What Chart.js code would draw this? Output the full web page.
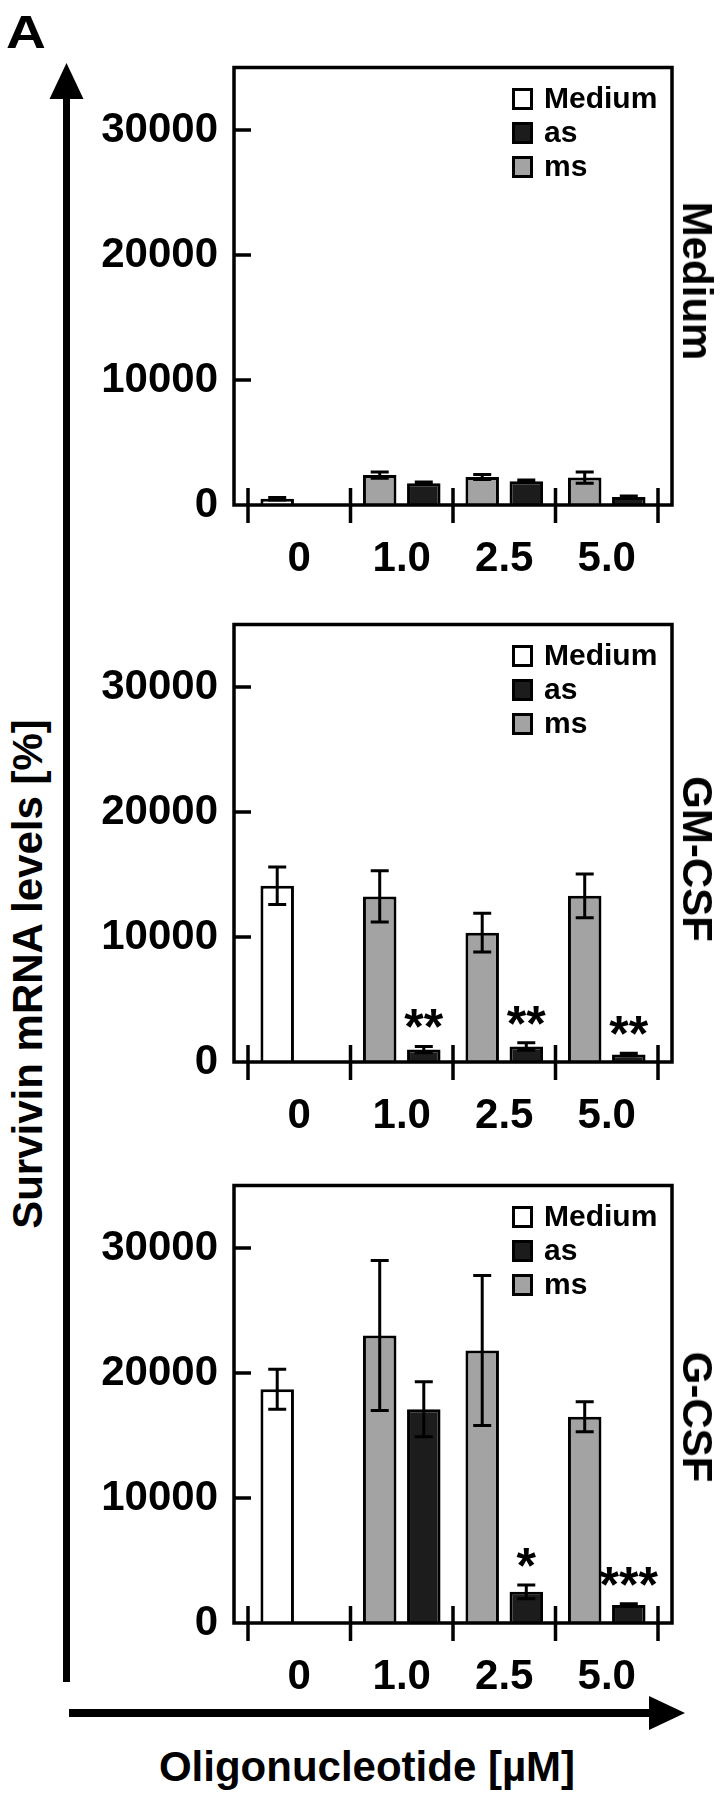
<!DOCTYPE html>
<html>
<head>
<meta charset="utf-8">
<script src="https://cdn.jsdelivr.net/npm/chart.js@4.4.1/dist/chart.umd.min.js"></script>
<style>
  body { margin: 0; background: #fff; }
  #page { position: relative; width: 723px; height: 1800px; overflow: hidden;
          font-family: 'Liberation Sans', Arial, sans-serif; font-weight: bold; color: #000; }
  canvas.panel { position: absolute; left: 0; }
  .lbl { position: absolute; white-space: nowrap; line-height: 1; font-size: 42px;
         transform: translate(-50%, -50%); }
</style>
</head>
<body>
<div id="page">
  <svg width="723" height="1800" style="position:absolute;left:0;top:0">
    <rect x="63" y="96" width="7" height="1586" fill="#000"/>
    <polygon points="66.5,63 49.5,99 83.5,99" fill="#000"/>
    <rect x="69" y="1709" width="582" height="8" fill="#000"/>
    <polygon points="685,1713 649,1696 649,1730" fill="#000"/>
  </svg>
  <div class="lbl" style="left:26px;top:32px;font-size:46px;transform:translate(-50%,-50%) scaleX(1.2)">A</div>
  <div class="lbl" style="left:28px;top:974px;transform:translate(-50%,-50%) rotate(-90deg)">Survivin mRNA levels [%]</div>
  <div class="lbl" style="left:367px;top:1767px">Oligonucleotide [µM]</div>
</div>
<script>
// x categories (oligonucleotide, µM) and y ticks
const categories = ['0', '1.0', '2.5', '5.0'];
const yTicks = [0, 10000, 20000, 30000];
const panelNames = ['Medium', 'GM-CSF', 'G-CSF'];

// one row per panel: Medium, GM-CSF, G-CSF
const mediumVals = [
  [500, null, null, null],
  [14100, null, null, null],
  [18700, null, null, null]
];
const mediumErr = [
  [100, 0, 0, 0],
  [1500, 0, 0, 0],
  [1600, 0, 0, 0]
];
const asVals = [
  [null, 1750, 1900, 650],
  [null, 1000, 1250, 600],
  [null, 17100, 2500, 1450]
];
const asErr = [
  [0, 100, 100, 80],
  [0, 250, 300, 100],
  [0, 2200, 550, 100]
];
const msVals = [
  [null, 2400, 2250, 2200],
  [null, 13250, 10350, 13300],
  [null, 23000, 21800, 16500]
];
const msErr = [
  [0, 250, 200, 450],
  [0, 2050, 1550, 1750],
  [0, 6000, 6000, 1200]
];
const asStars = [
  ['', '', '', ''],
  ['', '**', '**', '**'],
  ['', '', '*', '***']
];

Chart.defaults.font.family = "'Liberation Sans', Arial, sans-serif";
Chart.defaults.font.weight = 'bold';
Chart.defaults.color = '#000';

const panelTops = [0, 557, 1118];
const sideCenters = [281, 859, 1417];
const page = document.getElementById('page');

// frame, tick marks, error bars, stars and the little legend
const decor = {
  id: 'decor',
  afterDatasetsDraw(chart) {
    const ctx = chart.ctx;
    const a = chart.chartArea;
    const y = chart.scales.y;
    const pad = 14;
    ctx.save();
    ctx.strokeStyle = '#000';
    ctx.lineWidth = 3.5;
    ctx.strokeRect(a.left - pad, a.top, a.width + 2 * pad, a.bottom - a.top);

    ctx.beginPath();
    y.ticks.forEach(t => {
      if (t.value <= 0) return;
      const py = y.getPixelForValue(t.value);
      ctx.moveTo(a.left - pad, py);
      ctx.lineTo(a.left - pad + 17, py);
    });
    const w = a.width / categories.length;
    for (let i = 0; i <= categories.length; i++) {
      const px = a.left + i * w;
      ctx.moveTo(px, a.bottom - 17);
      ctx.lineTo(px, a.bottom + 18);
    }
    ctx.stroke();

    // error bars
    ctx.lineWidth = 3;
    ctx.beginPath();
    chart.data.datasets.forEach((ds, di) => {
      const meta = chart.getDatasetMeta(di);
      ds.data.forEach((v, i) => {
        if (v == null) return;
        const e = ds.err[i];
        const bx = meta.data[i].x;
        const top = y.getPixelForValue(v + e);
        const bot = y.getPixelForValue(Math.max(0, v - e));
        ctx.moveTo(bx, top); ctx.lineTo(bx, bot);
        ctx.moveTo(bx - 9, top); ctx.lineTo(bx + 9, top);
        ctx.moveTo(bx - 9, bot); ctx.lineTo(bx + 9, bot);
      });
    });
    ctx.stroke();

    // significance stars
    ctx.fillStyle = '#000';
    ctx.font = "bold 50px 'Liberation Sans', Arial, sans-serif";
    ctx.textAlign = 'center';
    ctx.textBaseline = 'alphabetic';
    chart.data.datasets.forEach((ds, di) => {
      if (!ds.stars) return;
      const meta = chart.getDatasetMeta(di);
      ds.stars.forEach((s, i) => {
        if (!s) return;
        const top = y.getPixelForValue(ds.data[i] + ds.err[i]);
        ctx.fillText(s, meta.data[i].x, top - 2);
      });
    });

    // legend
    const lx = a.right - 146;
    ctx.font = "bold 30px 'Liberation Sans', Arial, sans-serif";
    ctx.textAlign = 'left';
    ctx.textBaseline = 'middle';
    chart.data.datasets.forEach((ds, di) => {
      const cy = a.top + 31.5 + di * 34;
      ctx.fillStyle = ds.backgroundColor;
      ctx.fillRect(lx, cy - 11, 21, 22);
      ctx.lineWidth = 3;
      ctx.strokeRect(lx + 1.5, cy - 9.5, 18, 19);
      ctx.fillStyle = '#000';
      ctx.fillText(ds.label, lx + 32, cy + 1);
    });
    ctx.restore();
  }
};

panelNames.forEach((name, p) => {
  const cv = document.createElement('canvas');
  cv.className = 'panel';
  cv.width = 723;
  cv.height = 585;
  cv.style.top = panelTops[p] + 'px';
  page.appendChild(cv);

  const side = document.createElement('div');
  side.className = 'lbl';
  side.textContent = name;
  side.style.left = '697px';
  side.style.top = sideCenters[p] + 'px';
  side.style.transform = 'translate(-50%,-50%) rotate(90deg)';
  page.appendChild(side);

  new Chart(cv.getContext('2d'), {
    type: 'bar',
    data: {
      labels: categories,
      datasets: [
        { label: 'Medium', data: mediumVals[p], err: mediumErr[p], stack: 'a',
          backgroundColor: '#ffffff', borderColor: '#000', borderWidth: 3 },
        { label: 'as', data: asVals[p], err: asErr[p], stars: asStars[p], stack: 'b',
          backgroundColor: '#1c1c1c', borderColor: '#000', borderWidth: 3 },
        { label: 'ms', data: msVals[p], err: msErr[p], stack: 'a',
          backgroundColor: '#a3a3a3', borderColor: '#000', borderWidth: 3 }
      ]
    },
    options: {
      responsive: false,
      animation: false,
      devicePixelRatio: 1,
      categoryPercentage: 0.86,
      barPercentage: 0.76,
      layout: { padding: { top: 67.5, right: 65, left: 0, bottom: 0 } },
      plugins: { legend: { display: false }, tooltip: { enabled: false } },
      scales: {
        x: {
          stacked: true,
          grid: { display: false, drawTicks: false },
          border: { display: false },
          ticks: { color: '#000', padding: 29, font: { size: 42, weight: 'bold' } },
          afterFit: s => { s.height = 80; }
        },
        y: {
          stacked: true,
          min: 0,
          max: 35000,
          afterBuildTicks: s => { s.ticks = yTicks.map(v => ({ value: v })); },
          grid: { display: false, drawTicks: false },
          border: { display: false },
          ticks: { color: '#000', padding: 30, font: { size: 42, weight: 'bold' },
                   callback: v => String(v) },
          afterFit: s => { s.width = 248; }
        }
      }
    },
    plugins: [decor]
  });
});
</script>
</body>
</html>
